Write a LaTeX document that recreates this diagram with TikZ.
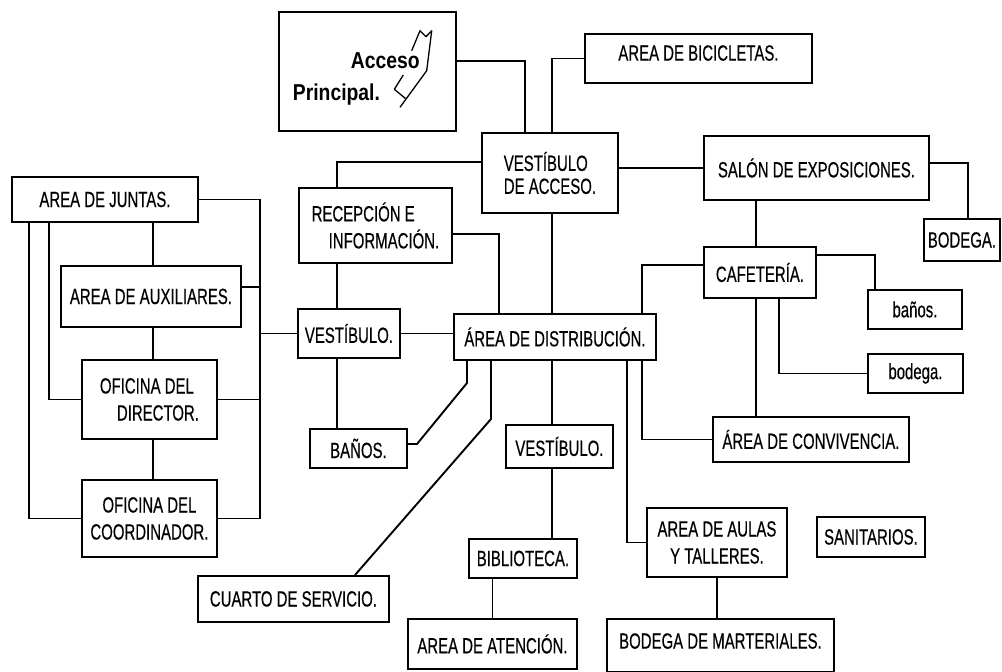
\documentclass[tikz,border=0pt]{standalone}
\usepackage{fontspec}
\setmainfont[FakeStretch=0.68,FakeBold=0.4]{Liberation Sans}
\newfontfamily\accesofont[FakeStretch=0.84]{Liberation Sans}
\newcommand{\planfont}{\fontsize{22}{27}\selectfont}
\tikzset{
  plan box/.style={draw=black, line width=1.9pt, rectangle, anchor=north west, inner sep=0pt, align=center, font=\planfont},
  plan link/.style={draw=black, line width=1.9pt},
  plan mark/.style={draw=black, line width=1.3pt, line join=round},
}

\begin{document}
\begin{tikzpicture}[x=1pt,y=-1pt]
  \useasboundingbox (0,0) rectangle (1002,672);
  % acceso y vestibulo
  \node[plan box, minimum width=177pt, minimum height=119pt, text width=149pt, inner xsep=14pt, align=left, font=\accesofont\bfseries\fontsize{23}{32}\selectfont] (acceso) at (278,11) {\rule{0pt}{31pt}\hspace*{58pt}Acceso\\Principal.};
  \draw[plan mark] (411.7,50.7) -- (420,30.7) -- (426,36.7) -- (431.7,30.7) -- (426.7,70.7) -- (400,107.3);
  \draw[plan mark] (403.3,75) -- (394.3,89.3) -- (405.7,98.7);
  \node[plan box, minimum width=227pt, minimum height=49pt, text depth=11pt] (bicy) at (584,33) {AREA DE BICICLETAS.};
  \node[plan box, minimum width=136pt, minimum height=80pt, align=left, font=\fontsize{22}{23}\selectfont] (vacceso) at (481,132) {VESTÍBULO\\DE ACCESO.};
  \node[plan box, minimum width=225pt, minimum height=64pt] (salon) at (703,135) {SALÓN DE EXPOSICIONES.};
  \node[plan box, minimum width=76pt, minimum height=42pt] (bodega) at (923,218) {BODEGA.};
  \node[plan box, minimum width=112pt, minimum height=51pt] (cafe) at (703,246) {CAFETERÍA.};
  \node[plan box, minimum width=94pt, minimum height=39pt] (banos) at (867,289) {baños.};
  \node[plan box, minimum width=95pt, minimum height=39pt] (bodegab) at (867,353) {bodega.};
  \node[plan box, minimum width=196pt, minimum height=45pt] (conviv) at (712,416) {ÁREA DE CONVIVENCIA.};
  \node[plan box, minimum width=153pt, minimum height=75pt, align=left] (recep) at (298,187) {RECEPCIÓN E\\\hspace*{17pt}INFORMACIÓN.};
  \node[plan box, minimum width=202pt, minimum height=46pt] (dist) at (453,313) {ÁREA DE DISTRIBUCIÓN.};
  \node[plan box, minimum width=102pt, minimum height=49pt] (vest1) at (297,308) {VESTÍBULO.};
  \node[plan box, minimum width=97pt, minimum height=39pt] (banosB) at (309,428) {BAÑOS.};
  \node[plan box, minimum width=191pt, minimum height=46pt] (cuarto) at (197,575) {CUARTO DE SERVICIO.};
  \node[plan box, minimum width=107pt, minimum height=43pt] (vest2) at (505,424) {VESTÍBULO.};
  \node[plan box, minimum width=108pt, minimum height=39pt] (biblio) at (468,538) {BIBLIOTECA.};
  \node[plan box, minimum width=169pt, minimum height=50pt] (atencion) at (407,618) {AREA DE ATENCIÓN.};
  \node[plan box, minimum width=140pt, minimum height=69pt] (aulas) at (646,507) {AREA DE AULAS\\Y TALLERES.};
  \node[plan box, minimum width=108pt, minimum height=40pt] (sanit) at (816,516) {SANITARIOS.};
  \node[plan box, minimum width=227pt, minimum height=53pt, text depth=9pt] (bodmat) at (606,618) {BODEGA DE MARTERIALES.};
  % zona administrativa
  \node[plan box, minimum width=186pt, minimum height=45pt] (juntas) at (11,176) {AREA DE JUNTAS.};
  \node[plan box, minimum width=180pt, minimum height=61pt] (aux) at (60,265) {AREA DE AUXILIARES.};
  \node[plan box, minimum width=135pt, minimum height=79pt, align=left] (dir) at (81,359) {OFICINA DEL\\\hspace*{17pt}DIRECTOR.};
  \node[plan box, minimum width=135pt, minimum height=77pt] (coord) at (81,479) {OFICINA DEL\\COORDINADOR.};

  \coordinate (kA) at (525,61);
  \coordinate (kB) at (552,58);
  \coordinate (kS) at (968,163);
  \coordinate (kC) at (875,255);
  \coordinate (kD) at (642,265);
  \coordinate (kR) at (499,234);
  \coordinate (kV) at (337,162);
  \coordinate (kW1) at (467,383);
  \coordinate (kW2) at (417,444);
  \coordinate (kQ1) at (491,419);
  \coordinate (kQ2) at (355,0);
  \coordinate (kX) at (260,287);
  \coordinate (xV) at (552,0);
  \coordinate (xCf) at (756,0);
  \coordinate (xCb) at (779,0);
  \coordinate (xAu) at (627,0);
  \coordinate (xL) at (153,0);
  \coordinate (xJ1) at (49,0);
  \coordinate (xJ2) at (29,0);
  \coordinate (bus) at (260,0);

  \draw[plan link] (kA -| acceso.east) -| (kA |- vacceso.north);
  \draw[plan link] (kB |- vacceso.north) |- (bicy.west);
  \draw[plan link] (vacceso.east |- salon.west) -- (salon.west);
  \draw[plan link] (kS -| salon.east) -| (kS |- bodega.north);
  \draw[plan link] (xCf |- salon.south) -- (xCf |- cafe.north);
  \draw[plan link] (kC -| cafe.east) -| (kC |- banos.north);
  \draw[plan link] (xCb |- cafe.south) |- (bodegab.west);
  \draw[plan link] (xCf |- cafe.south) -- (xCf |- conviv.north);
  \draw[plan link] (kD |- dist.north) -- (kD) -- (kD -| cafe.west);
  \draw[plan link] (kD |- dist.south) |- (conviv.west);
  \draw[plan link] (kV -| vacceso.west) -| (kV |- recep.north);
  \draw[plan link] (kR -| recep.east) -| (kR |- dist.north);
  \draw[plan link] (xV |- vacceso.south) -- (xV |- dist.north);
  \draw[plan link] (kV |- recep.south) -- (kV |- vest1.north);
  \draw[plan link] (vest1.east) -- (vest1.east -| dist.west);
  \draw[plan link] (kV |- vest1.south) -- (kV |- banosB.north);
  \draw[plan link] (kW1 |- dist.south) -- (kW1) -- (kW2) -- (kW2 -| banosB.east);
  \draw[plan link] (kQ1 |- dist.south) -- (kQ1) -- (kQ2 |- cuarto.north);
  \draw[plan link] (xV |- dist.south) -- (xV |- vest2.north);
  \draw[plan link] (xV |- vest2.south) -- (xV |- biblio.north);
  \draw[plan link] (atencion.north) -- (atencion.north |- biblio.south);
  \draw[plan link] (xAu |- dist.south) |- (aulas.west);
  \draw[plan link] (aulas.south) -- (aulas.south |- bodmat.north);
  % enlaces de la zona administrativa
  \draw[plan link] (xL |- juntas.south) -- (xL |- aux.north);
  \draw[plan link] (xL |- aux.south) -- (xL |- dir.north);
  \draw[plan link] (xL |- dir.south) -- (xL |- coord.north);
  \draw[plan link] (xJ1 |- juntas.south) |- (dir.west);
  \draw[plan link] (xJ2 |- juntas.south) |- (coord.west);
  \draw[plan link] (juntas.east) -| (bus |- coord.east) -- (coord.east);
  \draw[plan link] (kX -| aux.east) -- (kX);
  \draw[plan link] (dir.east) -- (dir.east -| bus);
  \draw[plan link] (vest1.west) -- (vest1.west -| bus);
\end{tikzpicture}
\end{document}
